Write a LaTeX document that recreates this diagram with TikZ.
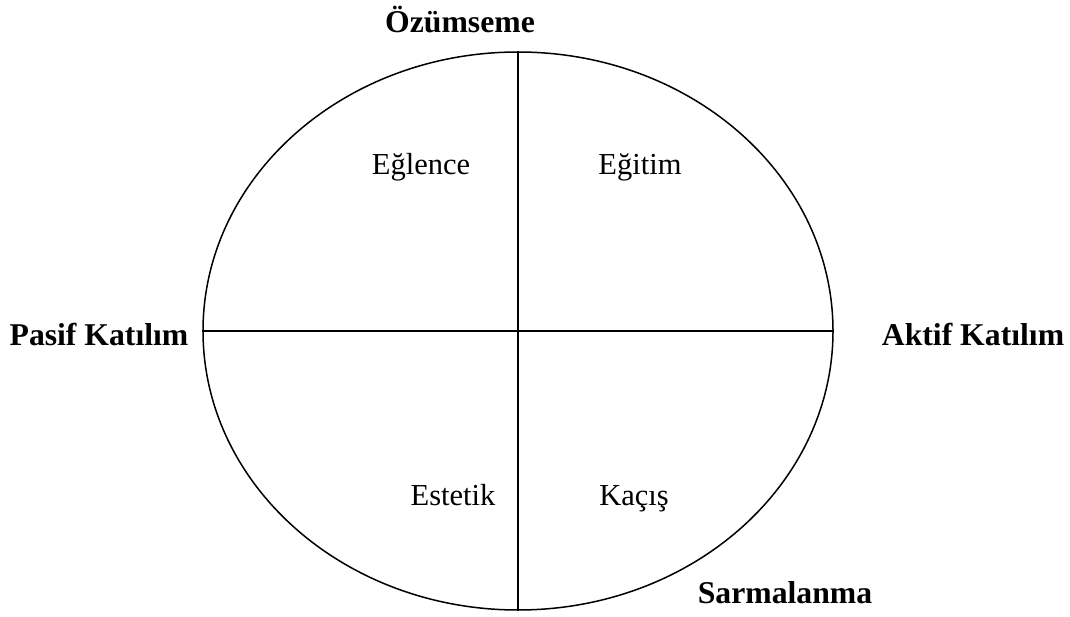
\documentclass[tikz,border=0pt]{standalone}
\usepackage{fontspec}
\setmainfont{Liberation Serif}
\usepackage{tikz}
\usetikzlibrary{positioning,shapes.geometric}
\tikzset{
  axislabel/.style={
    anchor=base,
    inner sep=0pt,
    font=\fontsize{31.7}{38}\selectfont\bfseries
  },
  quadlabel/.style={
    anchor=base,
    inner sep=0pt,
    font=\fontsize{30.5}{36}\selectfont
  },
  frame/.style={line width=1.5pt, black}
}
\begin{document}
\begin{tikzpicture}[x=1pt, y=-1pt]
\useasboundingbox (0,0) rectangle (1070,617);
\node[draw, frame, ellipse, minimum width=630pt, minimum height=558pt, inner sep=0pt] (circ) at (518,331) {};
\draw[frame] (circ.north) -- (circ.south);
\draw[frame] (circ.west) -- (circ.east);
\node[axislabel] (ozum) at (460,33) {Özümseme};
\node[axislabel] (pasif) at (99,345) {Pasif Katılım};
\node[axislabel] (aktif) at (973,345) {Aktif Katılım};
\node[axislabel] (sarma) at (785,603) {Sarmalanma};
\node[quadlabel] (eglence) at (421,175) {Eğlence};
\node[quadlabel] (egitim) at (640,175) {Eğitim};
\node[quadlabel] (estetik) at (453,505) {Estetik};
\node[quadlabel] (kacis) at (634,505) {Kaçış};
\end{tikzpicture}
\end{document}
